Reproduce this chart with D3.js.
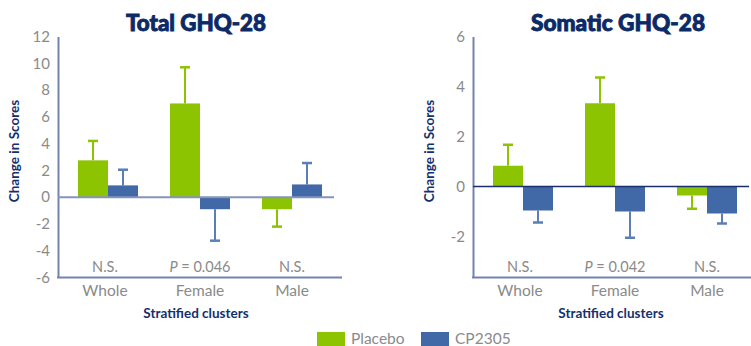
<!DOCTYPE html>
<html>
<head>
<meta charset="utf-8">
<script src="https://cdn.jsdelivr.net/npm/d3@7/dist/d3.min.js"></script>
<style>
  html, body { margin: 0; padding: 0; background: #fff; }
  svg { display: block; font-family: Lato, "Open Sans", sans-serif; }
</style>
</head>
<body>
<svg id="chart" width="751" height="346"></svg>
<script>
// Groups and treatment arms
const clusters = ["Whole", "Female", "Male"];
const arms = ["Placebo", "CP2305"];

// Total GHQ-28: mean change and error (upper/lower bound of bar)
const totalPlacebo = [2.75, 7.0, -0.9];
const totalPlaceboErr = [4.2, 9.7, -2.2];
const totalCP = [0.88, -0.9, 0.95];
const totalCPErr = [2.05, -3.25, 2.55];
const totalTicks = [12, 10, 8, 6, 4, 2, 0, -2, -4, -6];
const totalNotes = ["N.S.", "P = 0.046", "N.S."];

// Somatic GHQ-28
const somaPlacebo = [0.83, 3.33, -0.36];
const somaPlaceboErr = [1.67, 4.36, -0.89];
const somaCP = [-0.96, -1.0, -1.08];
const somaCPErr = [-1.44, -2.05, -1.48];
const somaTicks = [6, 4, 2, 0, -2];
const somaNotes = ["N.S.", "P = 0.042", "N.S."];

const colors = { Placebo: "#8cc402", CP2305: "#4169a8" };
const errColors = { Placebo: "#8cc402", CP2305: "#5a7fb6" };

const svg = d3.select("#chart");

function panel(cfg) {
  const g = svg.append("g");
  const y = d3.scaleLinear().domain(cfg.domain).range([277.5, 36.5]);
  const x0 = d3.scaleBand().domain(clusters)
    .range([cfg.axisX + 4, cfg.axisX + 280]).padding(0);
  const x1 = d3.scaleBand().domain(arms).range([16, 76]).padding(0);

  // Title
  g.append("text")
    .attr("x", cfg.titleX).attr("y", 31)
    .attr("text-anchor", "middle")
    .attr("font-size", 23).attr("font-weight", 900)
    .attr("fill", "#0b2a66").attr("stroke", "#0b2a66").attr("stroke-width", 0.9)
    .attr("textLength", cfg.titleLen).attr("lengthAdjust", "spacingAndGlyphs")
    .text(cfg.title);

  // Y axis
  const ya = g.append("g")
    .attr("transform", `translate(${cfg.axisX},0)`)
    .call(d3.axisLeft(y).tickValues(cfg.ticks).tickSize(0).tickPadding(8)
      .tickFormat(d => String(d)));
  ya.select(".domain").attr("stroke", "#7283ad").attr("stroke-width", 2);
  ya.selectAll("text").attr("font-size", 15).attr("fill", "#8a8a8a")
    .attr("font-family", "Lato, sans-serif");

  // Y label
  g.append("text")
    .attr("transform", `translate(${cfg.axisX - 39},151) rotate(-90)`)
    .attr("text-anchor", "middle")
    .attr("font-size", 13.5).attr("font-weight", 700)
    .attr("fill", "#14306e")
    .text("Change in Scores");

  // Bars
  const rows = [];
  clusters.forEach((c, i) => {
    rows.push({ c, arm: "Placebo", v: cfg.placebo[i], e: cfg.placeboErr[i] });
    rows.push({ c, arm: "CP2305", v: cfg.cp[i], e: cfg.cpErr[i] });
  });

  const bars = g.append("g").selectAll("g").data(rows).join("g")
    .attr("transform", d => `translate(${x0(d.c) + x1(d.arm)},0)`);

  // Error bars (drawn first so bars cover the stem base)
  bars.append("line")
    .attr("x1", x1.bandwidth() / 2).attr("x2", x1.bandwidth() / 2)
    .attr("y1", d => y(d.v)).attr("y2", d => y(d.e))
    .attr("stroke", d => errColors[d.arm]).attr("stroke-width", 2);
  bars.append("line")
    .attr("x1", x1.bandwidth() / 2 - 5).attr("x2", x1.bandwidth() / 2 + 5)
    .attr("y1", d => y(d.e)).attr("y2", d => y(d.e))
    .attr("stroke", d => errColors[d.arm]).attr("stroke-width", 2.5);

  bars.append("rect")
    .attr("x", 0).attr("width", x1.bandwidth())
    .attr("y", d => Math.min(y(d.v), y(0)))
    .attr("height", d => Math.abs(y(d.v) - y(0)))
    .attr("fill", d => colors[d.arm]);

  // Zero line
  g.append("line")
    .attr("x1", cfg.axisX).attr("x2", cfg.axisX + 276)
    .attr("y1", y(0)).attr("y2", y(0))
    .attr("stroke", cfg.zeroColor).attr("stroke-width", cfg.zeroWidth);

  // Bottom axis line
  g.append("line")
    .attr("x1", cfg.axisX - 1).attr("x2", cfg.bottomEnd)
    .attr("y1", y.range()[0]).attr("y2", y.range()[0])
    .attr("stroke", "#7283ad").attr("stroke-width", 2);

  // Significance notes
  const notes = g.append("g").selectAll("text").data(cfg.notes).join("text")
    .attr("x", (d, i) => x0(clusters[i]) + x0.bandwidth() / 2 - (i === 0 ? 3 : 0))
    .attr("y", 272)
    .attr("text-anchor", "middle")
    .attr("font-size", 14.5).attr("fill", "#8a8a8a");
  notes.each(function(d) {
    const t = d3.select(this);
    if (d.startsWith("P")) {
      t.append("tspan").attr("font-style", "italic").text("P");
      t.append("tspan").text(d.slice(1));
    } else {
      t.text(d);
    }
  });

  // Category labels
  g.append("g").selectAll("text").data(clusters).join("text")
    .attr("x", (d, i) => x0(d) + x0.bandwidth() / 2 - (i === 0 ? 3 : 0))
    .attr("y", 296)
    .attr("text-anchor", "middle")
    .attr("font-size", 15.5).attr("fill", "#8a8a8a")
    .text(d => d);

  // X label
  g.append("text")
    .attr("x", x0.range()[0] + 138 - 4).attr("y", 318)
    .attr("text-anchor", "middle")
    .attr("font-size", 13.5).attr("font-weight", 700)
    .attr("fill", "#14306e")
    .text("Stratified clusters");
}

panel({
  title: "Total GHQ-28", titleX: 196, titleLen: 140,
  axisX: 58, domain: [-6, 12], ticks: totalTicks,
  placebo: totalPlacebo, placeboErr: totalPlaceboErr,
  cp: totalCP, cpErr: totalCPErr, notes: totalNotes,
  zeroColor: "#8494bd", zeroWidth: 2, bottomEnd: 342
});

panel({
  title: "Somatic GHQ-28", titleX: 618, titleLen: 174,
  axisX: 473, domain: [-3.64, 6], ticks: somaTicks,
  placebo: somaPlacebo, placeboErr: somaPlaceboErr,
  cp: somaCP, cpErr: somaCPErr, notes: somaNotes,
  zeroColor: "#1b2f6e", zeroWidth: 1.5, bottomEnd: 751
});

// Legend
const legend = svg.append("g").selectAll("g").data(arms).join("g")
  .attr("transform", (d, i) => `translate(${i === 0 ? 317 : 421},332)`);
legend.append("rect").attr("width", 28).attr("height", 14)
  .attr("fill", d => colors[d]);
legend.append("text").attr("x", 34).attr("y", 12)
  .attr("font-size", 15.5).attr("fill", "#8a8a8a")
  .text(d => d);
</script>
</body>
</html>
